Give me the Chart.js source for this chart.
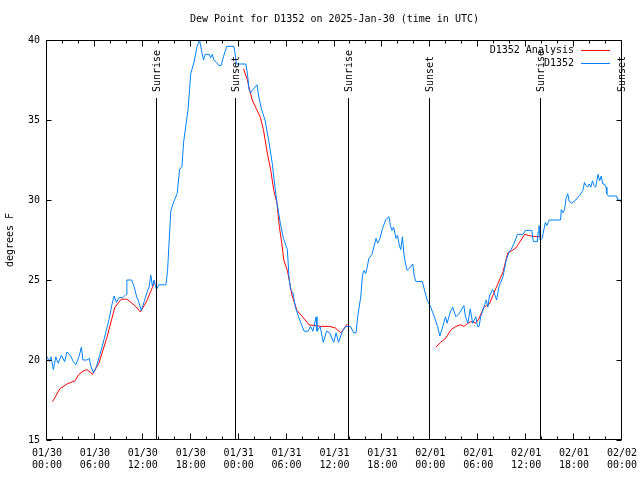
<!DOCTYPE html>
<html>
<head>
<meta charset="utf-8">
<script src="https://cdn.jsdelivr.net/npm/chart.js@4.4.1/dist/chart.umd.min.js"></script>
<style>
  body { margin: 0; background: #fff; }
  #wrap { width: 640px; height: 480px; }
</style>
</head>
<body>
<div id="wrap"><canvas id="dewChart" width="640" height="480"></canvas></div>
<script>
// observed dew point, hours since 01/30 00:00 UTC
var obsHours = [0,0.3,0.5,0.8,1.1,1.4,1.8,2.2,2.5,2.9,3.3,3.6,4.0,4.3,4.5,5.0,5.3,5.5,5.8,6.2,6.6,7.0,7.4,7.8,8.1,8.4,8.7,9.0,9.5,9.9,10.0,10.6,10.9,11.2,11.5,11.8,12.2,12.5,12.8,13.0,13.2,13.4,13.7,14.0,14.9,15.1,15.3,15.5,15.8,16.3,16.6,16.9,17.1,17.4,17.65,17.85,18.0,18.4,18.8,19.1,19.4,19.6,19.8,20.3,20.5,20.7,20.9,21.2,21.5,21.8,22.1,22.5,23.4,23.6,23.7,24.9,25.1,25.3,25.5,25.8,26.3,26.5,26.9,27.3,27.8,28.2,28.5,28.8,29.2,29.6,30.1,30.3,30.5,30.8,31.1,31.5,31.8,32.2,32.7,33.0,33.3,33.7,33.8,34.2,34.6,35.0,35.4,35.9,36.2,36.5,37.0,37.4,38.0,38.4,38.7,38.9,39.3,39.5,39.7,39.9,40.1,40.3,40.7,40.9,41.2,41.4,41.7,42.0,42.4,42.8,43.0,43.2,43.4,43.7,43.9,44.1,44.3,44.5,44.7,44.9,45.1,45.5,45.8,46.0,46.2,47.0,47.2,47.6,48.05,48.5,48.9,49.2,49.5,49.9,50.1,50.5,50.8,51.2,51.6,52.2,52.4,52.7,53.0,53.3,53.7,53.9,54.1,54.3,54.7,55.0,55.2,55.4,55.8,56.0,56.3,56.6,57.1,57.5,57.9,58.1,58.5,58.9,59.6,59.9,60.7,60.9,61.4,61.5,61.6,61.75,62.0,62.4,62.6,62.9,64.3,64.4,64.6,64.8,65.0,65.2,65.4,65.7,66.2,66.7,67.1,67.3,67.5,67.7,67.9,68.1,68.3,68.5,68.7,69.0,69.2,69.4,69.6,69.8,70.0,70.1,70.3,71.3,71.5,71.8,72.0];
var obsDewPt = [20.2,19.9,20.2,19.4,20.2,19.8,20.3,19.9,20.5,20.3,19.9,19.7,20.2,20.8,20.0,20.0,20.1,19.6,19.2,19.6,20.3,21.0,21.8,22.6,23.4,24.0,23.6,23.9,23.9,24.1,25.0,25.0,24.6,24.0,23.6,23.1,23.7,24.2,24.6,25.3,24.6,25.0,24.4,24.7,24.7,25.6,27.5,29.3,29.8,30.4,31.9,32.1,33.6,34.7,35.6,36.9,37.9,38.6,39.6,40.0,39.2,38.75,39.1,39.1,38.9,39.1,38.75,38.6,38.4,38.4,38.96,39.6,39.6,39.0,38.5,38.5,37.9,36.9,36.7,36.9,37.2,36.5,35.6,35.0,33.6,32.3,31.0,29.8,28.6,27.6,26.9,25.2,24.4,24.2,23.3,22.7,22.3,21.8,21.8,22.1,21.8,22.7,21.8,22.1,21.1,21.8,21.7,21.1,21.7,21.1,21.8,22.1,22.1,21.7,21.7,22.7,24.0,25.3,25.6,25.4,25.8,26.35,26.6,27.0,27.6,27.3,27.6,28.2,28.75,28.96,28.4,28.1,28.3,27.6,27.8,27.2,26.9,27.7,26.6,26.0,25.6,25.8,26.0,25.2,24.9,24.9,24.5,23.75,23.3,22.7,22.1,21.5,22.0,22.7,22.3,23.0,23.3,22.7,22.9,23.4,22.7,22.3,23.2,22.3,22.7,22.1,22.1,22.7,23.3,23.75,23.3,24.0,24.4,24.2,23.75,24.6,25.2,26.25,26.8,26.9,27.3,27.85,27.85,28.1,28.1,27.4,27.4,28.0,28.4,27.5,27.6,28.6,28.4,28.75,28.75,29.4,29.2,29.4,30.1,30.4,29.9,29.8,30.0,30.3,30.6,31.1,30.9,30.8,31.0,30.8,31.2,30.9,30.8,31.6,31.2,31.5,31.0,31.0,30.8,30.4,30.25,30.25,30.0,30.0,29.7];

// analysis, night only (null breaks the line)
var anaHours = [0.7,1.6,2.5,3.5,4.0,4.5,5.0,5.7,6.5,7.5,8.5,9.3,10.0,11.0,11.7,12.5,13.5,14,24.6,25.1,25.3,25.7,26.3,26.7,27.1,27.6,28.0,28.4,28.8,29.1,29.4,29.65,30.1,30.7,31.3,32.0,32.8,34.3,35.4,36.1,36.8,37.6,38,48.7,49.3,49.9,50.6,51.2,51.8,52.2,52.7,53.1,53.7,54.1,54.7,55.4,55.8,56.4,57.1,57.7,58.1,58.7,59.1,59.8,60.6,61.4,61.9];
var anaDewPt = [17.4,18.2,18.5,18.7,19.1,19.3,19.4,19.1,19.8,21.4,23.3,23.8,23.8,23.4,23.0,23.7,24.9,null,38.2,37.5,37.0,36.25,35.6,35.2,34.4,32.9,31.9,30.6,29.8,28.3,27.3,26.25,25.6,24.0,23.1,22.7,22.2,22.1,22.1,22.0,21.7,22.25,null,20.8,21.1,21.35,21.9,22.1,22.2,22.1,22.3,22.4,22.3,22.6,23.3,23.5,24.0,24.7,25.5,26.7,26.8,27.0,27.3,27.85,27.75,27.7,27.75];

var sunHours = [13.8, 23.7, 37.8, 47.9, 61.9, 71.95];
var sunLabels = ['Sunrise', 'Sunset', 'Sunrise', 'Sunset', 'Sunrise', 'Sunset'];

// x tick labels every 6 hours
var dayLabels = ['01/30','01/30','01/30','01/30','01/31','01/31','01/31','01/31','02/01','02/01','02/01','02/01','02/02'];
var timeLabels = ['00:00','06:00','12:00','18:00','00:00','06:00','12:00','18:00','00:00','06:00','12:00','18:00','00:00'];

var FONT = '"DejaVu Sans Mono", monospace';
Chart.defaults.font.family = FONT;
Chart.defaults.font.size = 10;
Chart.defaults.color = '#000';

function pairs(xs, ys) {
    return xs.map(function (x, i) { return { x: x, y: ys[i] }; });
}

// box, inward ticks, sunrise/sunset lines, title and legend
var decor = {
    id: 'decor',
    afterDatasetsDraw: function (chart) {
        var ctx = chart.ctx, a = chart.chartArea;
        var xs = chart.scales.x, ys = chart.scales.y;
        var L = Math.round(a.left) - 0.5, R = Math.round(a.right) - 0.5;
        var T = Math.round(a.top) + 0.5, B = Math.round(a.bottom) - 0.5;
        ctx.save();
        ctx.strokeStyle = '#000';
        ctx.fillStyle = '#000';
        ctx.lineWidth = 1;

        // sun lines
        ctx.font = '10px ' + FONT;
        sunHours.forEach(function (h, i) {
            var px = Math.round(xs.getPixelForValue(h)) - 0.5;
            ctx.beginPath();
            ctx.moveTo(px, 98);
            ctx.lineTo(px, B);
            ctx.stroke();
            ctx.save();
            ctx.translate(px + 1, 92);
            ctx.rotate(-Math.PI / 2);
            ctx.textAlign = 'left';
            ctx.textBaseline = 'middle';
            ctx.fillText(sunLabels[i], 0, 0);
            ctx.restore();
        });

        ctx.beginPath();
        ctx.rect(L, T, R - L, B - T);
        // x ticks every 2 h, longer every 6 h
        for (var h = 0; h <= 72; h += 2) {
            var px = Math.round(xs.getPixelForValue(h)) - 0.5;
            var len = (h % 6 === 0) ? 6 : 3;
            ctx.moveTo(px, B); ctx.lineTo(px, B - len);
            ctx.moveTo(px, T); ctx.lineTo(px, T + len);
        }
        for (var v = 15; v <= 40; v += 5) {
            var py = Math.round(ys.getPixelForValue(v)) + 0.5;
            ctx.moveTo(L, py); ctx.lineTo(L + 5, py);
            ctx.moveTo(R, py); ctx.lineTo(R - 5, py);
        }
        ctx.stroke();

        // title
        ctx.textAlign = 'center';
        ctx.textBaseline = 'middle';
        ctx.fillText('Dew Point for D1352 on 2025-Jan-30 (time in UTC)', (a.left + a.right) / 2, 19);

        // legend
        var items = [['D1352 Analysis', '#ff0000', 50], ['D1352', '#0080ff', 63]];
        items.forEach(function (it) {
            ctx.fillStyle = '#000';
            ctx.textAlign = 'right';
            ctx.fillText(it[0], 574, it[2]);
            ctx.strokeStyle = it[1];
            ctx.beginPath();
            ctx.moveTo(581, it[2] + 0.5);
            ctx.lineTo(610, it[2] + 0.5);
            ctx.stroke();
        });
        ctx.restore();
    }
};

new Chart(document.getElementById('dewChart'), {
    type: 'line',
    data: {
        datasets: [{
            label: 'D1352 Analysis',
            data: pairs(anaHours, anaDewPt),
            borderColor: '#ff0000',
            borderWidth: 1,
            pointRadius: 0,
            spanGaps: false,
            order: 1
        }, {
            label: 'D1352',
            data: pairs(obsHours, obsDewPt),
            borderColor: '#0080ff',
            borderWidth: 1,
            pointRadius: 0,
            order: 0
        }]
    },
    options: {
        responsive: false,
        animation: false,
        events: [],
        layout: { padding: { left: 0, right: 18, top: 40, bottom: 0 } },
        plugins: {
            legend: { display: false },
            title: { display: false },
            tooltip: { enabled: false }
        },
        scales: {
            x: {
                type: 'linear',
                min: 0,
                max: 72,
                grid: { display: false, drawTicks: false },
                border: { display: false },
                afterFit: function (s) {
                    s.height = 40;
                    s.paddingLeft = 0;
                    s.paddingRight = 0;
                },
                ticks: {
                    stepSize: 6,
                    autoSkip: false,
                    maxRotation: 0,
                    padding: 7,
                    callback: function (v) {
                        var i = Math.round(v / 6);
                        return [dayLabels[i], timeLabels[i]];
                    }
                }
            },
            y: {
                min: 15,
                max: 40,
                grid: { display: false, drawTicks: false },
                border: { display: false },
                afterFit: function (s) { s.width = 47; },
                title: { display: true, text: 'degrees F', padding: { top: 4, bottom: 4 } },
                ticks: { stepSize: 5, padding: 7 }
            }
        }
    },
    plugins: [decor]
});
</script>
</body>
</html>
